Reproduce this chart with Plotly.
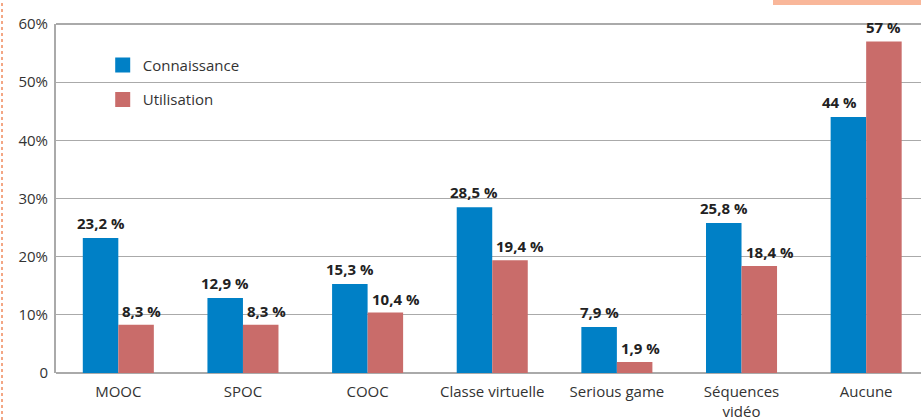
import plotly.graph_objects as go

categories = ["MOOC", "SPOC", "COOC", "Classe virtuelle", "Serious game", "Séquences<br>vidéo", "Aucune"]
connaissance = [23.2, 12.9, 15.3, 28.5, 7.9, 25.8, 44]
utilisation = [8.3, 8.3, 10.4, 19.4, 1.9, 18.4, 57]
conn_labels = ["23,2 %", "12,9 %", "15,3 %", "28,5 %", "7,9 %", "25,8 %", "44 %"]
util_labels = ["8,3 %", "8,3 %", "10,4 %", "19,4 %", "1,9 %", "18,4 %", "57 %"]
y_ticks = [0, 10, 20, 30, 40, 50, 60]
y_ticktext = ["0", "10%", "20%", "30%", "40%", "50%", "60%"]

FONT = "Open Sans, Roboto, Arial, sans-serif"
BLUE = "#0080C6"
RED = "#C96C6A"

L, R, T, B = 56, 0, 24, 47
W, H = 921, 420
BARGAP = 0.43
unit_px = (W - L - R) / 6.94
bar_px = unit_px * (1 - BARGAP) / 2

fig = go.Figure()
fig.add_bar(x=categories, y=connaissance, name="Connaissance", marker_color=BLUE,
            marker_line_width=0, showlegend=False)
fig.add_bar(x=categories, y=utilisation, name="Utilisation", marker_color=RED,
            marker_line_width=0, showlegend=False)

# legend entries with larger square swatches
fig.add_scatter(x=[None], y=[None], mode="markers", name="Connaissance",
                marker=dict(symbol="square", size=15, color=BLUE), legendgroup="a")
fig.add_scatter(x=[None], y=[None], mode="markers", name="Utilisation",
                marker=dict(symbol="square", size=15, color=RED), legendgroup="b")

LABEL_FONT = dict(family=FONT, size=15, color="#222222", weight="bold")
for cat, c, u, tc, tu in zip(categories, connaissance, utilisation, conn_labels, util_labels):
    red_taller = u > c
    # blue label: centred over its bar, nudged left when the red bar is taller
    fig.add_annotation(x=cat, y=c, text=tc, showarrow=False, yanchor="bottom",
                       xanchor="center", xshift=-bar_px / 2 - (9 if red_taller else 0),
                       yshift=3, font=LABEL_FONT)
    # red label: left aligned near bar's left edge, centred when it is the tallest
    if red_taller:
        fig.add_annotation(x=cat, y=u, text=tu, showarrow=False, yanchor="bottom",
                           xanchor="center", xshift=bar_px / 2, yshift=2, font=LABEL_FONT)
    else:
        fig.add_annotation(x=cat, y=u, text=tu, showarrow=False, yanchor="bottom",
                           xanchor="left", xshift=2, yshift=2, font=LABEL_FONT)

fig.update_layout(
    width=W, height=H,
    margin=dict(l=L, r=R, t=T, b=B, autoexpand=False),
    plot_bgcolor="white", paper_bgcolor="white",
    barmode="group", bargap=BARGAP, bargroupgap=0,
    font=dict(family=FONT, size=15, color="#333333"),
    legend=dict(x=0.054, y=0.929, xanchor="left", yanchor="top",
                font=dict(family=FONT, size=15, color="#333333"),
                bgcolor="rgba(0,0,0,0)", itemwidth=30, tracegroupgap=12,
                itemsizing="trace"),
    showlegend=True,
)
fig.update_xaxes(range=[-0.5, 6.44], showgrid=False, showline=False, ticks="",
                 automargin=False, ticklabelstandoff=8,
                 tickfont=dict(family=FONT, size=15, color="#333333"))
fig.update_yaxes(range=[0, 60], tickvals=y_ticks, ticktext=y_ticktext,
                 showgrid=True, gridcolor="#AAAAAA", gridwidth=1,
                 showline=True, linecolor="#AAAAAA", linewidth=2,
                 zeroline=True, zerolinecolor="#AAAAAA", zerolinewidth=2,
                 ticks="", ticklabelstandoff=3, automargin=False,
                 tickfont=dict(family=FONT, size=15, color="#333333"))

# top border line at 60%
fig.add_shape(type="line", xref="paper", yref="paper", x0=0, x1=1, y0=1, y1=1,
              line=dict(color="#AAAAAA", width=2))
px = lambda p: (p - L) / (W - L - R)
py = lambda p: (H - B - p) / (H - T - B)
# decorative left dashed orange border
fig.add_shape(type="line", xref="paper", yref="paper", x0=px(2), x1=px(2), y0=py(420), y1=py(0),
              line=dict(color="#F08A5D", width=1.5, dash="dot"))
# decorative orange box at top right
fig.add_shape(type="rect", xref="paper", yref="paper", x0=px(773), x1=px(921),
              y0=py(5), y1=py(0), fillcolor="#F9B79A", line=dict(width=0))

fig.write_html("out.html", config={"displayModeBar": False},
               post_script="document.body.style.margin='0';document.body.style.overflow='hidden';")
